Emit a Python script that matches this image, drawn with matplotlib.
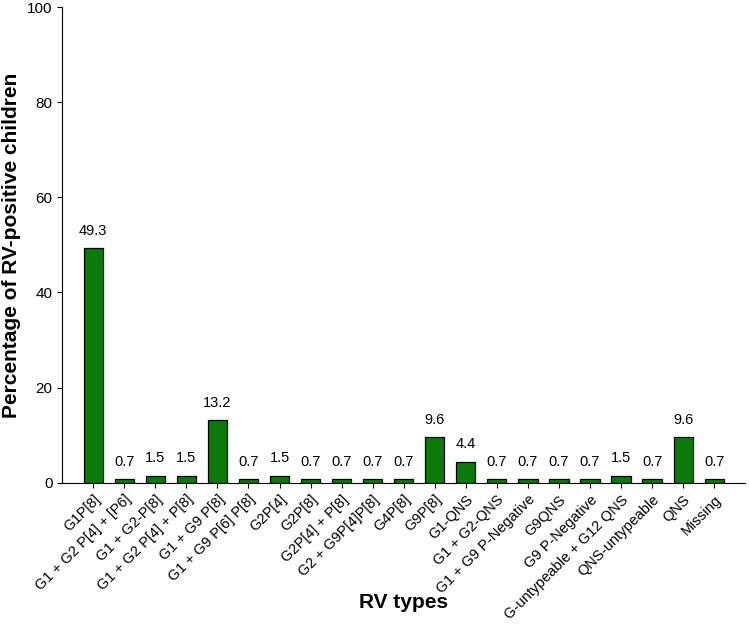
import numpy as np
import matplotlib.pyplot as plt

plt.rcParams['font.family'] = ['Liberation Sans', 'DejaVu Sans']

# 数据
labels = ['G1P[8]', 'G1 + G2 P[4] + [P6]', 'G1 + G2-P[8]', 'G1 + G2 P[4] + P[8]',
          'G1 + G9 P[8]', 'G1 + G9 P[6] P[8]', 'G2P[4]', 'G2P[8]', 'G2P[4] + P[8]',
          'G2 + G9P[4]P[8]', 'G4P[8]', 'G9P[8]', 'G1-QNS', 'G1 + G2-QNS',
          'G1 + G9 P-Negative', 'G9QNS', 'G9 P-Negative', 'G-untypeable + G12 QNS',
          'QNS-untypeable', 'QNS', 'Missing']
values = [49.3, 0.7, 1.5, 1.5, 13.2, 0.7, 1.5, 0.7, 0.7, 0.7, 0.7, 9.6, 4.4,
          0.7, 0.7, 0.7, 0.7, 1.5, 0.7, 9.6, 0.7]

fig = plt.figure(figsize=(7.49, 6.42), dpi=100)
ax = fig.add_axes([0.083, 0.248, 0.912, 0.741])

x = np.arange(len(labels))
ax.bar(x, values, width=0.62, color='#0b7a0b', edgecolor='black', linewidth=0.9)
for xi, v in zip(x, values):
    ax.text(xi, v + 2.2, f'{v:.1f}', ha='center', va='bottom', fontsize=10.5)

ax.set_xlim(-1, 21)
ax.set_ylim(0, 100)
ax.set_yticks([0, 20, 40, 60, 80, 100])
ax.set_xticks(x)
ax.set_xticklabels(labels, rotation=45, ha='right', rotation_mode='anchor', fontsize=10.5)
ax.tick_params(axis='y', labelsize=11)
ax.spines['top'].set_visible(False)
ax.spines['right'].set_visible(False)

ax.set_ylabel('Percentage of RV-positive children', fontsize=15, fontweight='bold')
ax.set_xlabel('RV types', fontsize=15, fontweight='bold')
ax.xaxis.set_label_coords(0.5, -0.252)
ax.xaxis.label.set_va('center')

fig.savefig('out.png', dpi=100)
